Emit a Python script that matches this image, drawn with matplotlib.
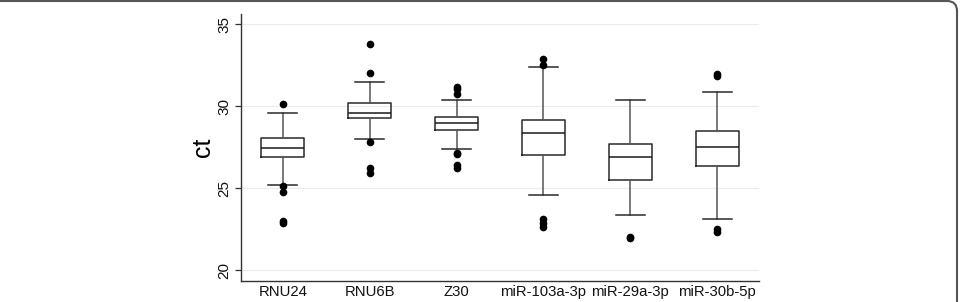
import matplotlib.pyplot as plt
from matplotlib.patches import FancyBboxPatch

plt.rcParams['font.family'] = ['Liberation Sans', 'DejaVu Sans']

# categories and box statistics
genes = ["RNU24", "RNU6B", "Z30", "miR-103a-3p", "miR-29a-3p", "miR-30b-5p"]
q1 = [26.91, 29.27, 28.54, 27.01, 25.50, 26.36]
med = [27.48, 29.61, 29.00, 28.35, 26.93, 27.52]
q3 = [28.09, 30.18, 29.37, 29.16, 27.68, 28.49]
whislo = [25.18, 27.99, 27.38, 24.61, 23.39, 23.13]
whishi = [29.61, 31.50, 30.40, 32.40, 30.40, 30.85]
outliers = [
    [30.12, 25.12, 24.80, 22.98, 22.90],
    [33.78, 32.05, 27.84, 26.26, 25.95],
    [31.20, 31.05, 30.73, 27.17, 27.07, 26.42, 26.26],
    [32.90, 32.50, 23.15, 22.90, 22.66],
    [21.99, 22.05],
    [31.97, 31.85, 22.54, 22.34],
]

stats = []
for i, g in enumerate(genes):
    stats.append(dict(label=g, q1=q1[i], med=med[i], q3=q3[i],
                      whislo=whislo[i], whishi=whishi[i], fliers=outliers[i]))

fig = plt.figure(figsize=(9.61, 3.02), dpi=100)
ax = fig.add_axes([0.2508, 0.0695, 0.539, 0.8841])

ax.bxp(stats, widths=0.5, capwidths=0.33, patch_artist=False,
       boxprops=dict(color='#2a2a2a', linewidth=1.1),
       medianprops=dict(color='#1a1a1a', linewidth=1.1),
       whiskerprops=dict(color='#555555', linewidth=1.1),
       capprops=dict(color='#2a2a2a', linewidth=1.1),
       flierprops=dict(marker='o', markerfacecolor='black', markeredgecolor='black',
                       markersize=4.5))

ax.set_xlim(0.52, 6.48)
ax.set_ylim(19.35, 35.63)
ax.set_yticks([20, 25, 30, 35])
ax.grid(axis='y', color='#ececec', linewidth=0.8)
ax.set_axisbelow(True)

for s in ['top', 'right']:
    ax.spines[s].set_visible(False)
for s in ['left', 'bottom']:
    ax.spines[s].set_color('#333333')
    ax.spines[s].set_linewidth(1.0)

ax.tick_params(axis='x', length=0, labelsize=10.7, pad=3, colors='#111111')
ax.tick_params(axis='y', length=4, width=0.9, color='#333333', labelsize=11,
               pad=3, labelcolor='#111111')
for lab in ax.get_yticklabels():
    lab.set_rotation(90)
    lab.set_va('center')
ax.set_ylabel('ct', fontsize=18, labelpad=2)

# partial rounded frame around the figure (pixel coordinates)
frame = FancyBboxPatch((-20, -20), 977, 321, boxstyle='round,pad=0,rounding_size=10',
                       transform=None, facecolor='none', edgecolor='#555555',
                       linewidth=1.5)
fig.patches.append(frame)

fig.savefig('out.png', dpi=100)
